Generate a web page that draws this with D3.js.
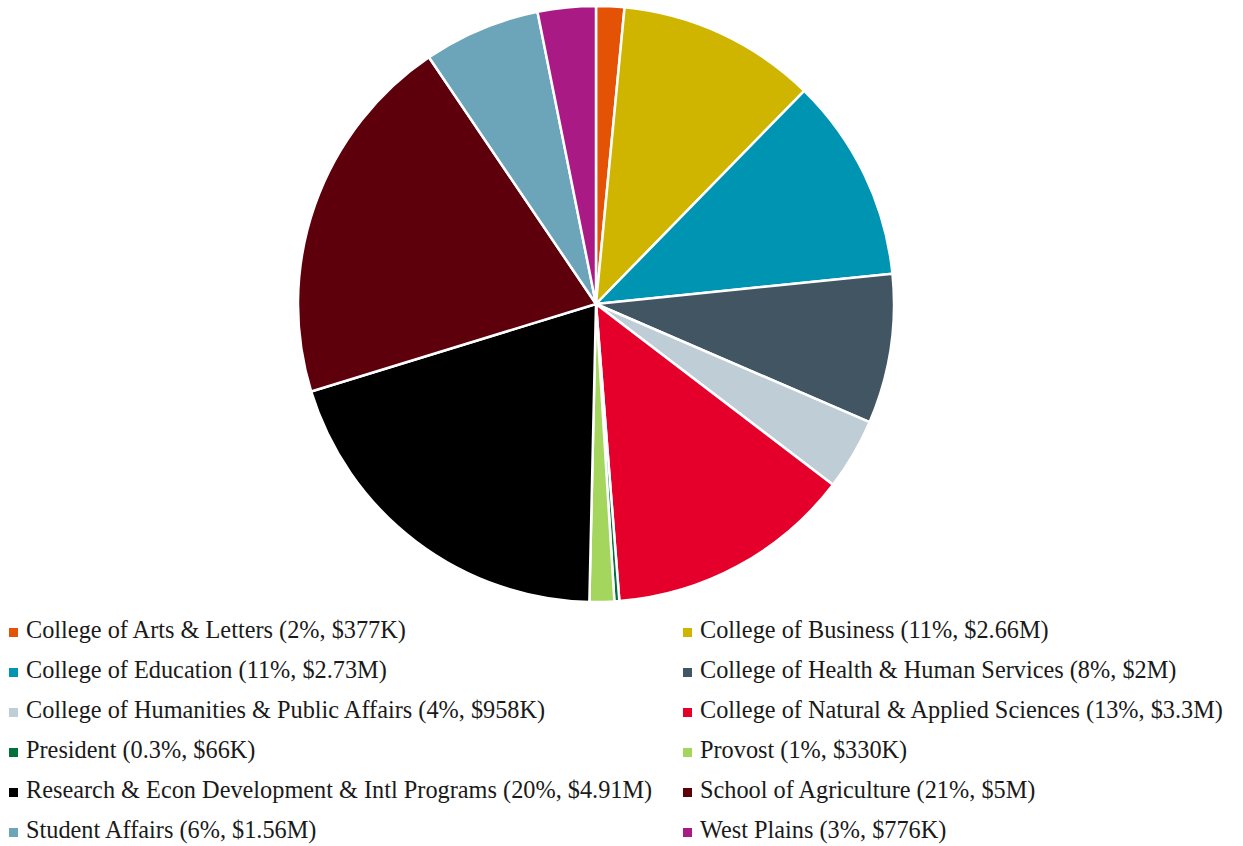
<!DOCTYPE html>
<html>
<head>
<meta charset="utf-8">
<script src="https://cdn.jsdelivr.net/npm/d3@7"></script>
<style>
  html, body { margin: 0; padding: 0; background: #fff; }
  svg { display: block; }
  .legend text { font-family: "Liberation Serif", "DejaVu Serif", serif; font-size: 24.3px; fill: #1a1a1a; }
</style>
</head>
<body>
<svg id="chart"></svg>
<script>
// chart data
const units = [
  "College of Arts & Letters", "College of Business", "College of Education",
  "College of Health & Human Services", "College of Humanities & Public Affairs",
  "College of Natural & Applied Sciences", "President", "Provost",
  "Research & Econ Development & Intl Programs", "School of Agriculture",
  "Student Affairs", "West Plains"
];
const amounts = [377, 2660, 2730, 2000, 958, 3300, 66, 330, 4910, 5000, 1560, 776]; // $K
const pctLabels = ["2%", "11%", "11%", "8%", "4%", "13%", "0.3%", "1%", "20%", "21%", "6%", "3%"];
const amountLabels = ["$377K", "$2.66M", "$2.73M", "$2M", "$958K", "$3.3M", "$66K", "$330K", "$4.91M", "$5M", "$1.56M", "$776K"];
const colors = ["#e35205", "#cfb500", "#0094b3", "#425563", "#bfcdd6", "#e4002b",
                "#00703c", "#a4d65e", "#000000", "#5e000b", "#6ca4ba", "#aa1a85"];

const width = 1243, height = 846;
const cx = 596, cy = 304, radius = 298;

const svg = d3.select("#chart").attr("width", width).attr("height", height);

const data = units.map((u, i) => ({ name: u, value: amounts[i], pct: pctLabels[i], amt: amountLabels[i] }));

const color = d3.scaleOrdinal().domain(units).range(colors);

const pie = d3.pie().sort(null).value(d => d.value);
const arc = d3.arc().innerRadius(0).outerRadius(radius);

svg.append("g")
  .attr("transform", "translate(" + cx + "," + cy + ")")
  .selectAll("path")
  .data(pie(data))
  .join("path")
  .attr("d", arc)
  .attr("fill", d => color(d.data.name))
  .attr("stroke", "#fff")
  .attr("stroke-width", 2.5)
  .attr("stroke-linejoin", "round");

// legend, two columns
const colX = [9, 683];
const rowY = d3.scaleLinear().domain([0, 5]).range([632, 832]);

const legend = svg.append("g").attr("class", "legend")
  .selectAll("g")
  .data(data)
  .join("g")
  .attr("transform", (d, i) => "translate(" + colX[i % 2] + "," + rowY(Math.floor(i / 2)) + ")");

legend.append("rect")
  .attr("x", 0).attr("y", -4)
  .attr("width", 9).attr("height", 9)
  .attr("fill", d => color(d.name));

legend.append("text")
  .attr("x", 17)
  .attr("y", 6)
  .text(d => d.name + " (" + d.pct + ", " + d.amt + ")");
</script>
</body>
</html>
